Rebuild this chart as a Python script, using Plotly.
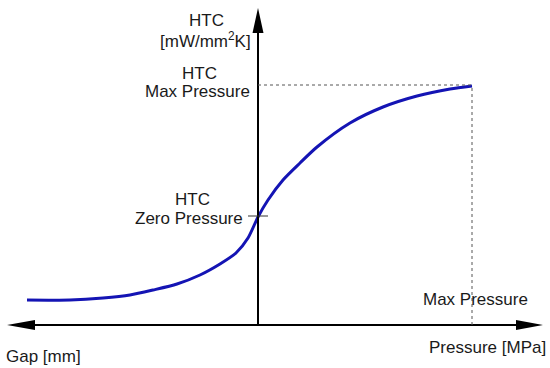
import plotly.graph_objects as go

# Conceptual data (arbitrary units): negative x = gap side, positive x = pressure side
gap_pressure = [-231, -188, -155, -128, -105, -81, -58, -38, -22, -10, 0,
                10, 25, 42, 59, 92, 125, 159, 192, 214]
htc = [25, 25, 27, 30, 35, 41, 50, 61, 72, 87, 108,
       125, 145, 162, 178, 202, 218, 229, 236, 239]
max_pressure = 214
htc_max = 239
htc_zero = 108

FONT = dict(family="Liberation Sans, Arial, sans-serif", size=17, color="#1a1a1a")

fig = go.Figure()
fig.add_trace(go.Scatter(x=gap_pressure, y=htc, mode="lines",
                         line=dict(color="#1414b4", width=3, shape="spline", smoothing=0.75),
                         hoverinfo="skip"))

shapes = [
    # horizontal axis
    dict(type="line", x0=-235, x1=270, y0=0, y1=0, line=dict(color="black", width=2)),
    dict(type="path", path="M -251 0 L -223 5 L -223 -5 Z", fillcolor="black", line=dict(width=0)),
    dict(type="path", path="M 285 0 L 258 5 L 258 -5 Z", fillcolor="black", line=dict(width=0)),
    # vertical axis
    dict(type="line", x0=0, x1=0, y0=0, y1=300, line=dict(color="black", width=2)),
    dict(type="path", path="M 0 317 L -5.5 292 L 5.5 292 Z", fillcolor="black", line=dict(width=0)),
    # dotted guides
    dict(type="line", x0=0, x1=max_pressure, y0=htc_max + 1, y1=htc_max + 1,
         line=dict(color="#555555", width=1, dash="dot")),
    dict(type="line", x0=max_pressure, x1=max_pressure, y0=0, y1=htc_max + 1,
         line=dict(color="#555555", width=1, dash="dot")),
    # zero-pressure tick
    dict(type="line", x0=-10, x1=10, y0=htc_zero + 1, y1=htc_zero + 1, line=dict(color="#333333", width=1)),
]

ann = [
    dict(x=-52, y=305, text="HTC", xanchor="center"),
    dict(x=-53, y=285, text="[mW/mm<sup>2</sup>K]", xanchor="center"),
    dict(x=-59, y=252, text="HTC", xanchor="center"),
    dict(x=-6, y=234, text="Max Pressure", xanchor="right"),
    dict(x=-66, y=126, text="HTC", xanchor="center"),
    dict(x=-13, y=107, text="Zero Pressure", xanchor="right"),
    dict(x=163, y=26, text="Max Pressure", xanchor="left"),
    dict(x=290, y=-22, text="Pressure [MPa]", xanchor="right"),
    dict(x=-254, y=-31, text="Gap [mm]", xanchor="left"),
]
for a in ann:
    a.update(xref="x", yref="y", showarrow=False, yanchor="middle", font=FONT)

fig.update_layout(
    width=550, height=368,
    margin=dict(l=0, r=0, t=0, b=0),
    paper_bgcolor="white", plot_bgcolor="white",
    showlegend=False,
    shapes=shapes, annotations=ann,
    xaxis=dict(range=[-258, 292], visible=False, fixedrange=True),
    yaxis=dict(range=[-43, 325], visible=False, fixedrange=True),
)

fig.write_html("out.html", config={"displayModeBar": False},
               post_script="document.body.style.margin='0';document.body.style.padding='0';")
